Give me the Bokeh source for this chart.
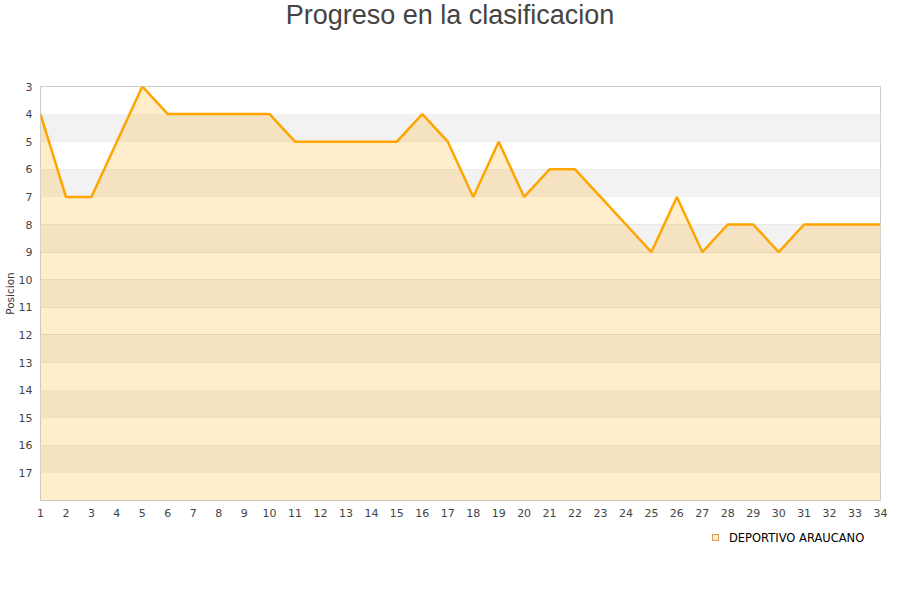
from bokeh.plotting import figure
from bokeh.models import ColumnDataSource, Range1d, FixedTicker, Div
from bokeh.layouts import column
from bokeh.embed import file_html
from bokeh.resources import INLINE

# datos: jornada y posicion
jornadas = list(range(1, 35))
posicion = [4, 7, 7, 5, 3, 4, 4, 4, 4, 4,
            5, 5, 5, 5, 5, 4, 5, 7, 5, 7,
            6, 6, 7, 8, 9, 7, 9, 8, 8, 9,
            8, 8, 8, 8]
titulo = "Progreso en la clasificacion"
equipo = "DEPORTIVO ARAUCANO"
pos_min, pos_max = 3, 18

source = ColumnDataSource(dict(x=jornadas, y=posicion, base=[pos_max] * len(jornadas)))

# titulo como Div encima del grafico
cabecera = Div(text=(
    "<div style=\"width:900px;text-align:center;line-height:30px;"
    "font-family:'Liberation Sans';font-size:27px;color:#444444;white-space:nowrap\">"
    + titulo + "</div>"), width=900, height=30, margin=(0, 0, 0, 0))

p = figure(width=890, height=498, output_backend="svg", toolbar_location=None,
           x_range=Range1d(1, 34), y_range=Range1d(pos_max, pos_min))
p.min_border_left = 40
p.min_border_right = 10
p.min_border_top = 56
p.min_border_bottom = 28

# bandas grises alternas
bandas = [k for k in range(pos_min + 1, pos_max, 2)]
p.quad(left=1, right=34, bottom=bandas, top=[b + 1 for b in bandas],
       fill_color="#f2f2f2", line_color=None)

p.varea(x="x", y1="y", y2="base", source=source, fill_color="orange", fill_alpha=0.2)
p.line("x", "y", source=source, line_color="#ffa500", line_width=2.5)

p.xaxis.ticker = FixedTicker(ticks=jornadas)
p.yaxis.ticker = FixedTicker(ticks=list(range(pos_min, pos_max)))
for ax in (p.xaxis[0], p.yaxis[0]):
    ax.axis_line_color = None
    ax.major_tick_line_color = None
    ax.minor_tick_line_color = None
    ax.major_tick_out = 0
    ax.major_tick_in = 0
    ax.major_label_text_font = "DejaVu Sans"
    ax.major_label_text_font_size = "11px"
    ax.major_label_text_color = "#444444"
p.xaxis.major_label_standoff = 8
p.yaxis.major_label_standoff = 8
p.yaxis.axis_label = "Posicion"
p.yaxis.axis_label_text_font = "DejaVu Sans"
p.yaxis.axis_label_text_font_size = "10.5px"
p.yaxis.axis_label_text_font_style = "normal"
p.yaxis.axis_label_text_color = "#333333"
p.yaxis.axis_label_standoff = 0

p.xgrid.grid_line_color = None
p.ygrid.grid_line_color = "#d8d8d8"
p.ygrid.grid_line_alpha = 0.8
p.outline_line_color = "#cccccc"
p.background_fill_color = "white"
p.border_fill_color = "white"

# leyenda debajo del grafico
leyenda = Div(text=(
    "<div style='padding-left:712px;line-height:18px;white-space:nowrap'>"
    "<span style='display:inline-block;width:7px;height:7px;border:1px solid #d9a050;"
    "background:#ffedcc;vertical-align:middle;margin-right:10px'></span>"
    "<span style=\"font-family:'DejaVu Sans';font-size:11.5px;color:#000;vertical-align:middle\">"
    + equipo + "</span></div>"), width=890, height=30, margin=(0, 0, 0, 0))

open("out.html", "w").write(file_html(column(cabecera, p, leyenda, spacing=0), INLINE))
